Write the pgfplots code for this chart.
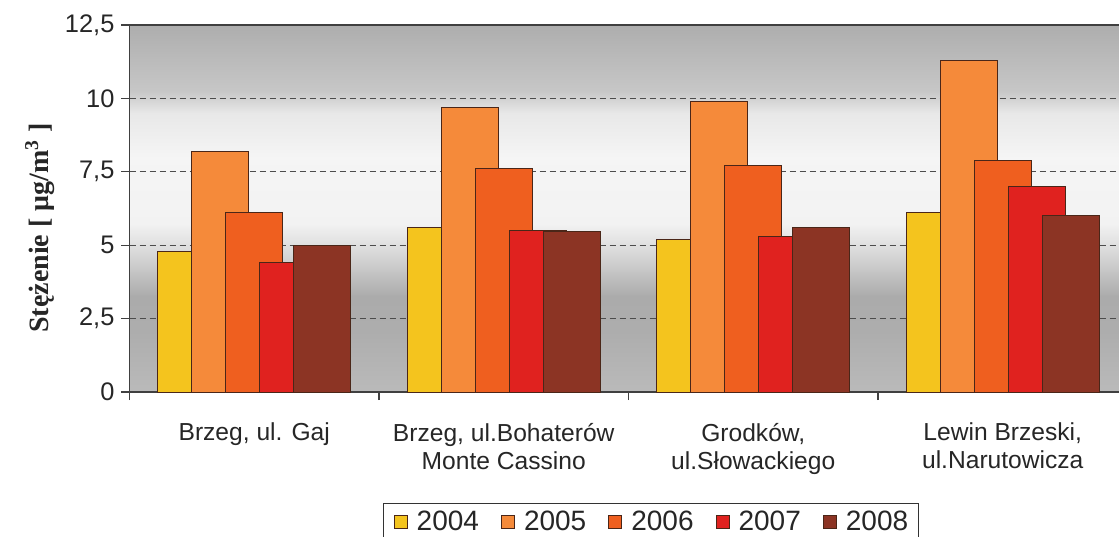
\documentclass[border=0pt]{standalone}
\usepackage{fontspec}
\setmainfont{Liberation Sans}
\newfontfamily\serifb{Liberation Serif}
\usepackage{pgfplots}
\usepackage{pgfplotstable}
\pgfplotsset{compat=1.18}

\definecolor{c2004}{HTML}{F4C41E}
\definecolor{c2005}{HTML}{F58A3A}
\definecolor{c2006}{HTML}{EF5F1F}
\definecolor{c2007}{HTML}{E0221F}
\definecolor{c2008}{HTML}{8C3424}
\definecolor{edge}{HTML}{4A2618}
\definecolor{txt}{HTML}{262626}

\pgfdeclareverticalshading{bgshade}{100bp}{color(0bp)=(black!27); color(25bp)=(black!27); color(33bp)=(black!32); color(38bp)=(black!33); color(44bp)=(black!15); color(48bp)=(black!5); color(57bp)=(black!4); color(63bp)=(black!9); color(66bp)=(black!22); color(75bp)=(black!32); color(100bp)=(black!32)}

\pgfplotstableread{
x y2004 y2005 y2006 y2007 y2008
0 4.8 8.2 6.1 4.4 5.0
1 5.6 9.7 7.6 5.5 5.45
2 5.2 9.9 7.7 5.3 5.6
3 6.1 11.3 7.9 7.0 6.0
}\data

\begin{document}
\begin{tikzpicture}
\path[use as bounding box] (0,0) rectangle (559.5pt,268pt);
\begin{axis}[
  at={(64.75pt,72pt)}, anchor=south west,
  width=494.75pt, height=183.5pt, scale only axis,
  xmin=-0.5, xmax=3.466, ymin=0, ymax=12.5,
  axis x line*=bottom, axis y line*=left,
  axis line style={black!75, line width=0.6pt},
  axis background/.style={shade, shading=bgshade},
  ybar, bar width=28.5pt,
  ytick={0,2.5,5,7.5,10,12.5},
  ymajorgrids,
  major grid style={black!70, line width=0.5pt, dash pattern=on 3pt off 2pt},
  tick align=outside, major tick length=4pt,
  tick style={black!75, line width=0.6pt},
  /pgf/number format/use comma,
  /pgf/number format/assume math mode=true,
  yticklabel style={font=\fontsize{12.7}{14}\selectfont, text=txt},
  xtick={-0.5,0.5,1.5,2.5}, xticklabels={},
  extra x ticks={0,1,2,3},
  extra x tick labels={{Brzeg, ul. Gaj},{Brzeg, ul.Bohaterów\\Monte Cassino},{Grodków,\\ul.Słowackiego},{Lewin Brzeski,\\ul.Narutowicza}},
  extra x tick style={major tick length=0pt, grid=none,
    tick label style={font=\fontsize{12.3}{14}\selectfont, text=txt, align=center, yshift=-12pt}},
  every axis y label/.style={at={(axis description cs:-0.0905,0.447)}, rotate=90, anchor=center},
  ylabel={\serifb\bfseries\fontsize{14}{16}\selectfont Stężenie [ μg/m\textsuperscript{3} ]},
  ylabel style={text=txt},
  legend style={at={(axis description cs:0.527,-0.3025)}, anchor=north,
    legend columns=5, draw=black!80, line width=0.6pt, fill=white,
    font=\fontsize{14}{16}\selectfont, text=txt,
    inner xsep=5pt, inner ysep=1.5pt,
    nodes={inner xsep=0pt, inner ysep=2pt},
    /tikz/every odd column/.append style={column sep=4.5pt},
    /tikz/every even column/.append style={column sep=11pt}},
  legend image code/.code={\draw[#1, draw=edge, line width=0.5pt] (0pt,-3.25pt) rectangle (6.5pt,3.25pt);},
]
\addplot[bar shift=-34pt, fill=c2004, draw=edge, line width=0.5pt] table[x=x,y=y2004]{\data};
\addplot[bar shift=-17pt, fill=c2005, draw=edge, line width=0.5pt] table[x=x,y=y2005]{\data};
\addplot[bar shift=0pt, fill=c2006, draw=edge, line width=0.5pt] table[x=x,y=y2006]{\data};
\addplot[bar shift=17pt, fill=c2007, draw=edge, line width=0.5pt] table[x=x,y=y2007]{\data};
\addplot[bar shift=34pt, fill=c2008, draw=edge, line width=0.5pt] table[x=x,y=y2008]{\data};
\legend{2004,2005,2006,2007,2008}
\draw[black!75, line width=0.6pt] (rel axis cs:0,1) -- (rel axis cs:1,1);
\end{axis}
\end{tikzpicture}
\end{document}
